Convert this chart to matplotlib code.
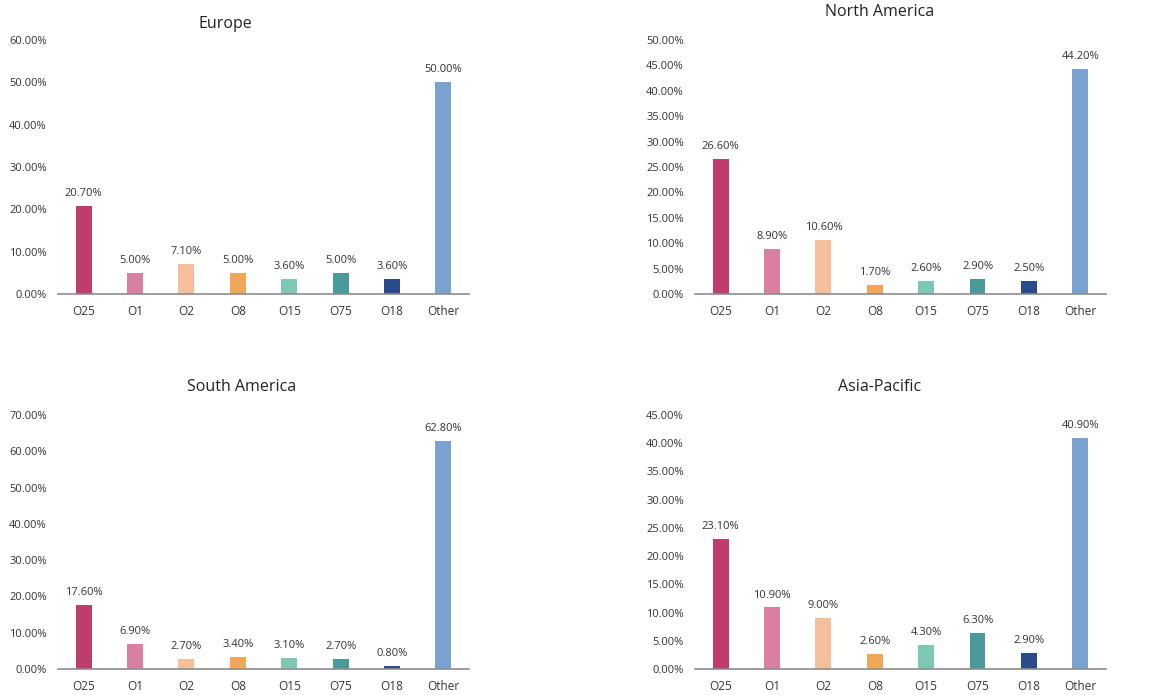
import matplotlib.pyplot as plt
from matplotlib.ticker import PercentFormatter

categories = ['O25', 'O1', 'O2', 'O8', 'O15', 'O75', 'O18', 'Other']
colors = ['#BE3D6E', '#D97FA0', '#F4BF9A', '#F0A75A', '#7DC8B4', '#4A9A99', '#2A4C8C', '#7AA2D1']

europe = [20.7, 5.0, 7.1, 5.0, 3.6, 5.0, 3.6, 50.0]
north_america = [26.6, 8.9, 10.6, 1.7, 2.6, 2.9, 2.5, 44.2]
south_america = [17.6, 6.9, 2.7, 3.4, 3.1, 2.7, 0.8, 62.8]
asia_pacific = [23.1, 10.9, 9.0, 2.6, 4.3, 6.3, 2.9, 40.9]

plt.rcParams['font.family'] = ['Open Sans', 'DejaVu Sans']

fig = plt.figure(figsize=(11.56, 6.95), dpi=100)

# (name, values, ymax, ystep, axes rect, title position)
panels = [
    ('Europe', europe, 60, 10, [0.0502, 0.577, 0.3555, 0.3655], (225, 24)),
    ('North America', north_america, 50, 5, [0.6012, 0.577, 0.3555, 0.3655], (880, 12)),
    ('South America', south_america, 70, 10, [0.0502, 0.0374, 0.3555, 0.3655], (242, 387)),
    ('Asia-Pacific', asia_pacific, 45, 5, [0.6012, 0.0374, 0.3555, 0.3655], (880, 387)),
]

for name, vals, ymax, step, rect, tpos in panels:
    ax = fig.add_axes(rect)
    x = range(len(categories))
    ax.bar(x, vals, width=0.31, color=colors)
    for i, v in enumerate(vals):
        ax.annotate(f'{v:.2f}%', (i, v), xytext=(0, 5), textcoords='offset points',
                    ha='center', va='bottom', fontsize=8, color='#333333')
    ax.set_xlim(-0.5, len(categories) - 0.5)
    ax.set_ylim(0, ymax)
    ax.set_yticks(range(0, ymax + 1, step))
    ax.yaxis.set_major_formatter(PercentFormatter(decimals=2))
    ax.set_xticks(list(x))
    ax.set_xticklabels(categories)
    ax.tick_params(axis='both', length=0, labelsize=8, colors='#333333')
    ax.tick_params(axis='y', pad=8)
    ax.tick_params(axis='x', pad=8, labelsize=8.5)
    for s in ['top', 'right', 'left']:
        ax.spines[s].set_visible(False)
    ax.spines['bottom'].set_color('#8c8c8c')
    ax.spines['bottom'].set_linewidth(1.2)
    fig.text(tpos[0] / 1156, 1 - tpos[1] / 695, name, ha='center', va='center',
             fontsize=11.5, color='#222222')

plt.savefig('out.png', dpi=100)
